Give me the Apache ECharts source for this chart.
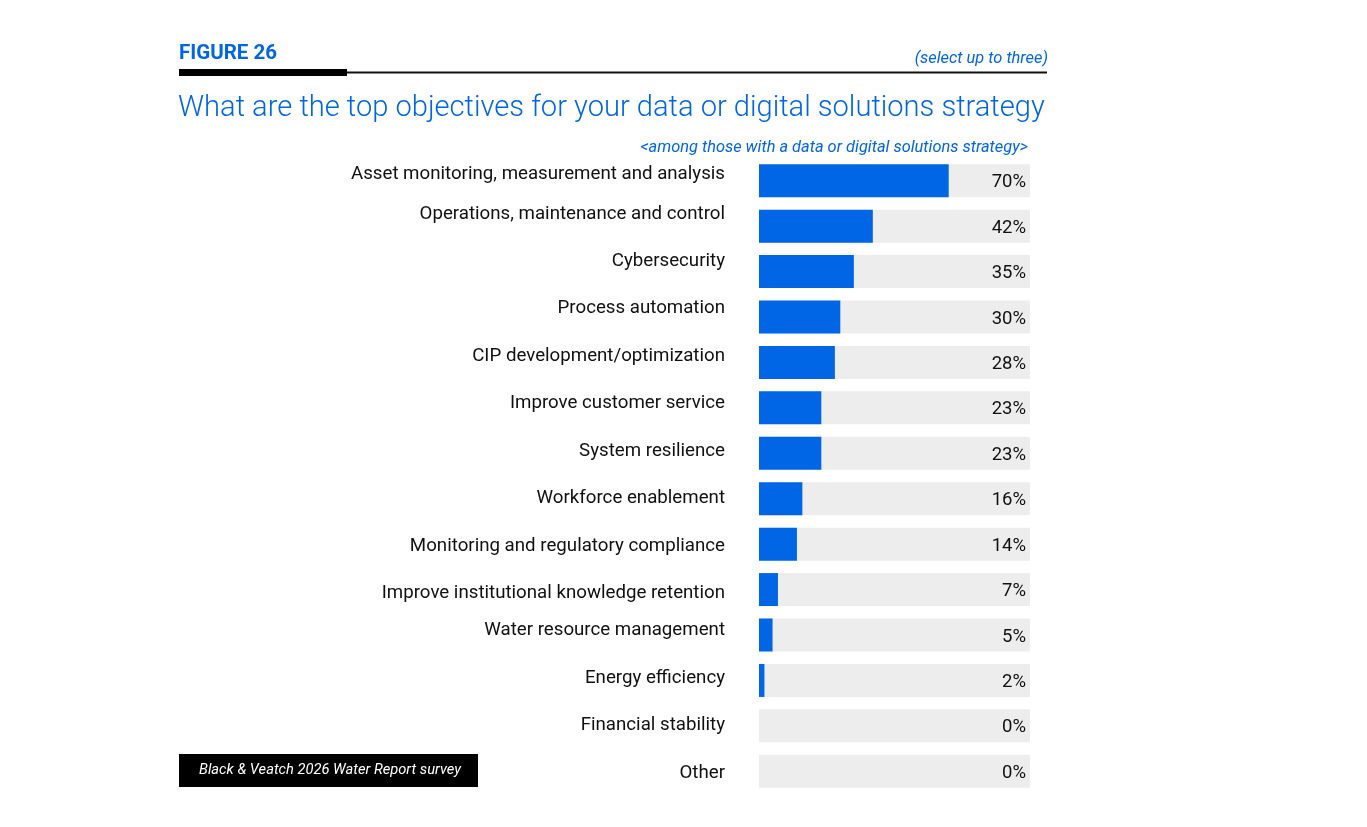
<!DOCTYPE html>
<html>
<head>
<meta charset="utf-8">
<script src="https://cdn.jsdelivr.net/npm/echarts@6/dist/echarts.min.js"></script>
<style>
  html, body { margin: 0; padding: 0; background: #fff; }
  #chart { width: 1367px; height: 827px; }
</style>
</head>
<body>
<div id="chart"></div>
<script>
// data
var categories = [
  "Asset monitoring, measurement and analysis",
  "Operations, maintenance and control",
  "Cybersecurity",
  "Process automation",
  "CIP development/optimization",
  "Improve customer service",
  "System resilience",
  "Workforce enablement",
  "Monitoring and regulatory compliance",
  "Improve institutional knowledge retention",
  "Water resource management",
  "Energy efficiency",
  "Financial stability",
  "Other"
];
var shares = [70, 42, 35, 30, 28, 23, 23, 16, 14, 7, 5, 2, 0, 0];
var fullScale = categories.map(function () { return 100; });
// labels in the original don't sit exactly on their bar centre (px up, negative = down)
var labelLift = [6, 12, 10, 9, 6, 5, 2, 0, -2, -4, 5, 2, 1, -2];

var blue = "#0066e6";
var font = "Roboto";

var chart = echarts.init(document.getElementById("chart"));

// one rich style per lift amount: padding on one side shifts the text
var liftRich = {};
labelLift.forEach(function (v) {
  liftRich["u" + (v + 20)] = {
    fontFamily: font, fontSize: 18.7, color: "#111",
    padding: v >= 0 ? [0, 0, v * 2, 0] : [-v * 2, 0, 0, 0]
  };
});

var option = {
  backgroundColor: "#fff",
  animation: false,
  textStyle: { fontFamily: font },
  title: [
    {
      text: "FIGURE 26",
      left: 174, top: 38,
      textStyle: { fontFamily: font, fontSize: 20.5, fontWeight: "bold", color: blue }
    },
    {
      text: "(select up to three)",
      right: 314, top: 46,
      textStyle: { fontFamily: font, fontSize: 16.4, fontStyle: "italic", fontWeight: "normal", color: blue }
    },
    {
      text: "What are the top objectives for your data or digital solutions strategy",
      left: 173, top: 89,
      textStyle: { fontFamily: font, fontSize: 29.1, fontWeight: 300, color: blue }
    },
    {
      text: "<among those with a data or digital solutions strategy>",
      right: 334, top: 135,
      textStyle: { fontFamily: font, fontSize: 16.4, fontStyle: "italic", fontWeight: "normal", color: blue }
    }
  ],
  graphic: [
    { type: "rect", shape: { x: 179, y: 71.5, width: 868, height: 2 }, style: { fill: "#111" } },
    { type: "rect", shape: { x: 179, y: 69, width: 168, height: 7 }, style: { fill: "#000" } },
    { type: "rect", shape: { x: 179, y: 754, width: 299, height: 33 }, style: { fill: "#000" } },
    {
      type: "text", left: 199, top: 763,
      style: { text: "Black & Veatch 2026 Water Report survey", fill: "#fff", font: "italic 14.7px Roboto" }
    }
  ],
  grid: { left: 759, right: 337, top: 158, bottom: 33 },
  xAxis: { type: "value", min: 0, max: 100, show: false },
  yAxis: {
    type: "category",
    data: categories,
    inverse: true,
    axisLine: { show: false },
    axisTick: { show: false },
    axisLabel: {
      margin: 34,
      fontFamily: font,
      fontSize: 18.7,
      color: "#111",
      formatter: function (value, index) {
        return "{u" + (labelLift[index] + 20) + "|" + value + "}";
      },
      rich: liftRich
    }
  },
  series: [
    {
      type: "bar",
      data: fullScale,
      barWidth: 33,
      silent: true,
      itemStyle: { color: "#ededed" },
      label: {
        show: true,
        position: "insideRight",
        distance: 4,
        offset: [0, 2],
        fontFamily: font,
        fontSize: 18.5,
        color: "#111",
        formatter: function (p) { return shares[p.dataIndex] + "%"; }
      },
      z: 1
    },
    {
      type: "bar",
      data: shares,
      barWidth: 33,
      barGap: "-100%",
      itemStyle: { color: blue },
      z: 2
    }
  ]
};

chart.setOption(option);
</script>
</body>
</html>
